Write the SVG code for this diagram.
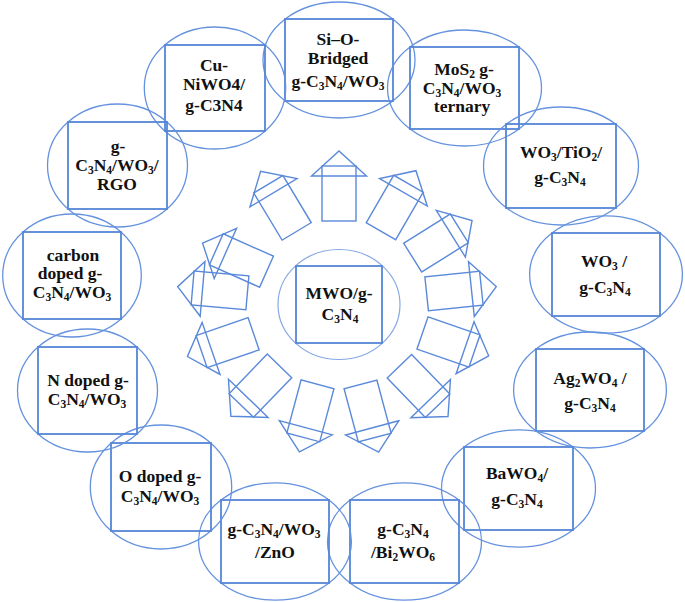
<svg xmlns="http://www.w3.org/2000/svg" width="685" height="602" viewBox="0 0 685 602">
<style>
.e{fill:none;stroke:#6592de;stroke-width:1.3}
.ec{fill:none;stroke:#86a8e6;stroke-width:1.2}
.r{fill:none;stroke:#5585d8;stroke-width:1.8}
.a{fill:none;stroke:#5a89da;stroke-width:1.4;stroke-linejoin:miter}
.t{font-family:"Liberation Serif","Times New Roman",serif;font-weight:700;font-size:17.5px;text-anchor:middle;fill:#111}
.s{font-size:11.5px}
</style>
<defs>
<g id="arr">
<rect x="-17" y="-27.5" width="34" height="55"/>
<polygon points="-27.5,-17.5 27.5,-17.5 0,-42.5"/>
</g>
</defs>
<rect width="685" height="602" fill="#fff"/>

<g id="connectors" class="a">
<use href="#arr" transform="translate(339,193.5) rotate(0)"/>
<use href="#arr" transform="translate(282.5,207.8) rotate(-31)"/>
<use href="#arr" transform="translate(394.7,207.5) rotate(30)"/>
<use href="#arr" transform="translate(436,243) rotate(58)"/>
<use href="#arr" transform="translate(454,291) rotate(84)"/>
<use href="#arr" transform="translate(448.5,342) rotate(109)"/>
<use href="#arr" transform="translate(418.5,386) rotate(136)"/>
<use href="#arr" transform="translate(367.6,411) rotate(165)"/>
<use href="#arr" transform="translate(310.4,410.8) rotate(195)"/>
<use href="#arr" transform="translate(260.4,385.7) rotate(224)"/>
<use href="#arr" transform="translate(227.6,342.7) rotate(251)"/>
<use href="#arr" transform="translate(220,290.4) rotate(275)"/>
<use href="#arr" transform="translate(241.4,260.5) rotate(294)"/>
</g>

<g id="center">
<ellipse class="ec" cx="339" cy="304.5" rx="61" ry="55"/>
<rect class="r" x="296" y="266" width="86" height="77"/>
<text class="t" x="339" y="299">MWO/g-</text>
<text class="t" x="340" y="320">C<tspan class="s" dy="3">3</tspan><tspan dy="-3">N</tspan><tspan class="s" dy="3">4</tspan></text>
</g>

<g id="n-sio">
<ellipse class="e" cx="339" cy="60" rx="76" ry="58"/>
<rect class="r" x="285" y="19" width="108" height="82"/>
<text class="t" x="338" y="45">Si–O-</text>
<text class="t" x="338" y="64">Bridged</text>
<text class="t" x="338" y="87">g-C<tspan class="s" dy="3">3</tspan><tspan dy="-3">N</tspan><tspan class="s" dy="3">4</tspan><tspan dy="-3">/WO</tspan><tspan class="s" dy="3">3</tspan></text>
</g>

<g id="n-cu">
<ellipse class="e" cx="215" cy="88" rx="70.7" ry="61"/>
<rect class="r" x="165" y="45" width="100" height="86"/>
<text class="t" x="214" y="71">Cu-</text>
<text class="t" x="214" y="90">NiWO4/</text>
<text class="t" x="214" y="111">g-C3N4</text>
</g>

<g id="n-mos2">
<ellipse class="e" cx="464.5" cy="88" rx="77" ry="58"/>
<rect class="r" x="410" y="47" width="109" height="82"/>
<text class="t" x="464" y="75">MoS<tspan class="s" dy="3">2</tspan><tspan dy="-3"> g-</tspan></text>
<text class="t" x="462" y="94">C<tspan class="s" dy="3">3</tspan><tspan dy="-3">N</tspan><tspan class="s" dy="3">4</tspan><tspan dy="-3">/WO</tspan><tspan class="s" dy="3">3</tspan></text>
<text class="t" x="462" y="112">ternary</text>
</g>

<g id="n-wo3tio2">
<ellipse class="e" cx="561" cy="166" rx="77.5" ry="59"/>
<rect class="r" x="506" y="124" width="110" height="84"/>
<text class="t" x="561" y="158">WO<tspan class="s" dy="3">3</tspan><tspan dy="-3">/TiO</tspan><tspan class="s" dy="3">2</tspan><tspan dy="-3">/</tspan></text>
<text class="t" x="560" y="183">g-C<tspan class="s" dy="3">3</tspan><tspan dy="-3">N</tspan><tspan class="s" dy="3">4</tspan></text>
</g>

<g id="n-wo3">
<ellipse class="e" cx="606" cy="274.5" rx="76.4" ry="58.7"/>
<rect class="r" x="552" y="233" width="108" height="83"/>
<text class="t" x="604" y="267">WO<tspan class="s" dy="3">3</tspan><tspan dy="-3"> /</tspan></text>
<text class="t" x="605" y="293">g-C<tspan class="s" dy="3">3</tspan><tspan dy="-3">N</tspan><tspan class="s" dy="3">4</tspan></text>
</g>

<g id="n-ag2wo4">
<ellipse class="e" cx="590" cy="390" rx="76.4" ry="58"/>
<rect class="r" x="536" y="349" width="108" height="82"/>
<text class="t" x="590" y="384">Ag<tspan class="s" dy="3">2</tspan><tspan dy="-3">WO</tspan><tspan class="s" dy="3">4</tspan><tspan dy="-3"> /</tspan></text>
<text class="t" x="590" y="409">g-C<tspan class="s" dy="3">3</tspan><tspan dy="-3">N</tspan><tspan class="s" dy="3">4</tspan></text>
</g>

<g id="n-bawo4">
<ellipse class="e" cx="518.5" cy="488.5" rx="77" ry="58.7"/>
<rect class="r" x="464" y="447" width="109" height="83"/>
<text class="t" x="517" y="479">BaWO<tspan class="s" dy="3">4</tspan><tspan dy="-3">/</tspan></text>
<text class="t" x="517" y="505">g-C<tspan class="s" dy="3">3</tspan><tspan dy="-3">N</tspan><tspan class="s" dy="3">4</tspan></text>
</g>

<g id="n-bi2wo6">
<ellipse class="e" cx="404.5" cy="541.5" rx="77" ry="58.7"/>
<rect class="r" x="350" y="500" width="109" height="83"/>
<text class="t" x="403" y="535">g-C<tspan class="s" dy="3">3</tspan><tspan dy="-3">N</tspan><tspan class="s" dy="3">4</tspan></text>
<text class="t" x="403" y="558">/Bi<tspan class="s" dy="3">2</tspan><tspan dy="-3">WO</tspan><tspan class="s" dy="3">6</tspan></text>
</g>

<g id="n-zno">
<ellipse class="e" cx="275" cy="541.5" rx="76.4" ry="58.7"/>
<rect class="r" x="221" y="500" width="108" height="83"/>
<text class="t" x="274" y="535">g-C<tspan class="s" dy="3">3</tspan><tspan dy="-3">N</tspan><tspan class="s" dy="3">4</tspan><tspan dy="-3">/WO</tspan><tspan class="s" dy="3">3</tspan></text>
<text class="t" x="275" y="558">/ZnO</text>
</g>

<g id="n-odoped">
<ellipse class="e" cx="161" cy="487" rx="70.7" ry="62"/>
<rect class="r" x="111" y="443" width="100" height="88"/>
<text class="t" x="160" y="482">O doped g-</text>
<text class="t" x="160" y="502">C<tspan class="s" dy="3">3</tspan><tspan dy="-3">N</tspan><tspan class="s" dy="3">4</tspan><tspan dy="-3">/WO</tspan><tspan class="s" dy="3">3</tspan></text>
</g>

<g id="n-ndoped">
<ellipse class="e" cx="87.5" cy="390.5" rx="70" ry="61.5"/>
<rect class="r" x="38" y="347" width="99" height="87"/>
<text class="t" x="88" y="386">N doped g-</text>
<text class="t" x="87" y="405">C<tspan class="s" dy="3">3</tspan><tspan dy="-3">N</tspan><tspan class="s" dy="3">4</tspan><tspan dy="-3">/WO</tspan><tspan class="s" dy="3">3</tspan></text>
</g>

<g id="n-carbon">
<ellipse class="e" cx="72" cy="275.5" rx="69.3" ry="61.5"/>
<rect class="r" x="23" y="232" width="98" height="87"/>
<text class="t" x="73" y="261">carbon</text>
<text class="t" x="70" y="279">doped g-</text>
<text class="t" x="72" y="298">C<tspan class="s" dy="3">3</tspan><tspan dy="-3">N</tspan><tspan class="s" dy="3">4</tspan><tspan dy="-3">/WO</tspan><tspan class="s" dy="3">3</tspan></text>
</g>

<g id="n-rgo">
<ellipse class="e" cx="117.5" cy="165.5" rx="70" ry="61.5"/>
<rect class="r" x="68" y="122" width="99" height="87"/>
<text class="t" x="118" y="152">g-</text>
<text class="t" x="117" y="171">C<tspan class="s" dy="3">3</tspan><tspan dy="-3">N</tspan><tspan class="s" dy="3">4</tspan><tspan dy="-3">/WO</tspan><tspan class="s" dy="3">3</tspan><tspan dy="-3">/</tspan></text>
<text class="t" x="117" y="190">RGO</text>
</g>
</svg>
